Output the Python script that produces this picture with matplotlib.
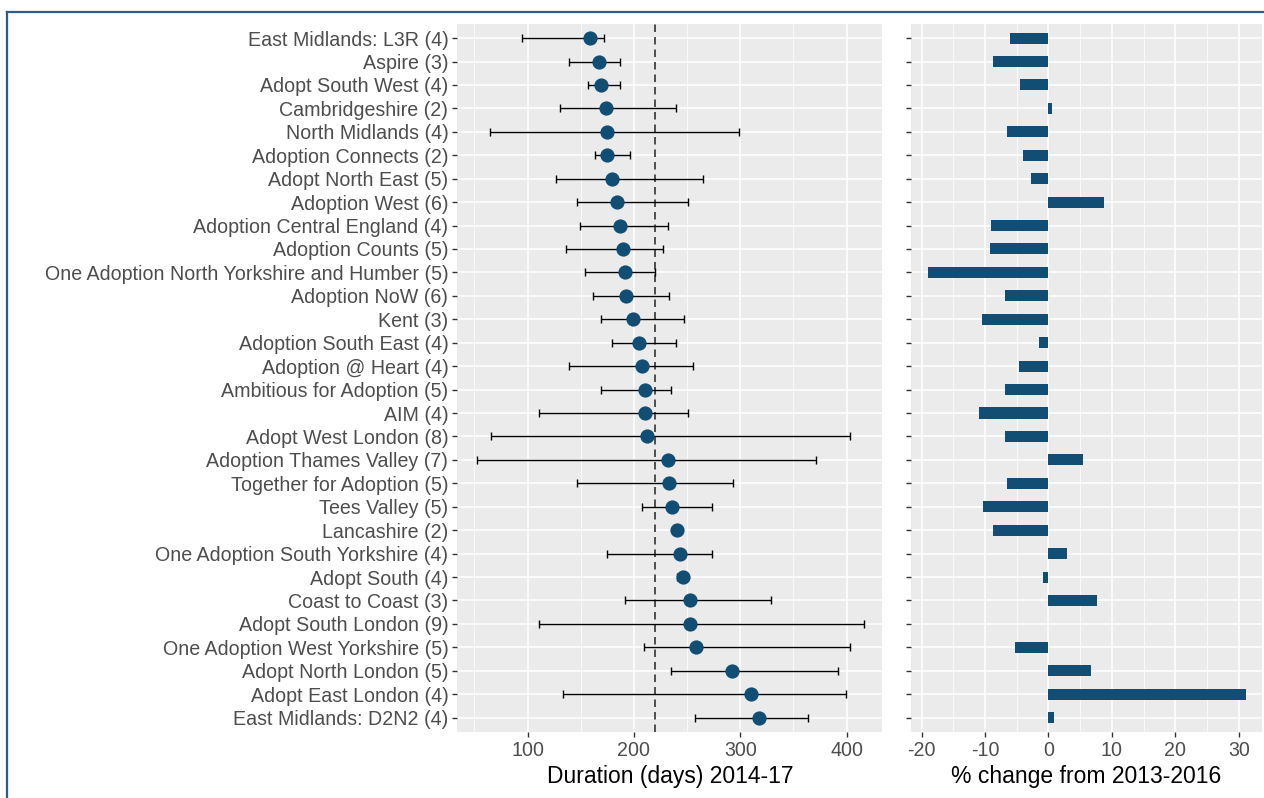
import matplotlib
matplotlib.use("Agg")
import matplotlib.pyplot as plt
import numpy as np
from matplotlib.lines import Line2D

plt.rcParams['font.family'] = ['Liberation Sans', 'DejaVu Sans']
plt.rcParams['axes.unicode_minus'] = False

# adoption agencies, top to bottom
agencies = [
    "East Midlands: L3R (4)", "Aspire (3)", "Adopt South West (4)", "Cambridgeshire (2)",
    "North Midlands (4)", "Adoption Connects (2)", "Adopt North East (5)", "Adoption West (6)",
    "Adoption Central England (4)", "Adoption Counts (5)",
    "One Adoption North Yorkshire and Humber (5)", "Adoption NoW (6)", "Kent (3)",
    "Adoption South East (4)", "Adoption @ Heart (4)", "Ambitious for Adoption (5)", "AIM (4)",
    "Adopt West London (8)", "Adoption Thames Valley (7)", "Together for Adoption (5)",
    "Tees Valley (5)", "Lancashire (2)", "One Adoption South Yorkshire (4)", "Adopt South (4)",
    "Coast to Coast (3)", "Adopt South London (9)", "One Adoption West Yorkshire (5)",
    "Adopt North London (5)", "Adopt East London (4)", "East Midlands: D2N2 (4)",
]

# duration in days 2014-17: mean, min, max
duration = [158.6, 167.4, 169.0, 173.4, 174.9, 174.9, 179.3, 183.7, 186.8, 189.7,
            191.2, 192.5, 198.7, 204.4, 207.5, 210.7, 210.7, 212.2, 231.7, 232.6,
            236.1, 240.4, 243.3, 246.4, 252.7, 252.7, 258.3, 292.5, 310.3, 317.9]
dur_low = [94.4, 138.9, 156.7, 130.1, 64.6, 163.0, 127.0, 146.4, 149.2, 136.1,
           153.9, 161.1, 169.0, 179.6, 138.9, 169.0, 110.7, 66.1, 52.7, 146.4,
           207.8, 239.5, 174.9, 240.4, 191.5, 110.7, 209.1, 234.5, 133.5, 257.1]
dur_high = [172.1, 187.1, 187.1, 239.5, 298.7, 195.9, 264.6, 251.1, 231.7, 227.0,
            219.4, 232.9, 246.7, 239.2, 255.8, 234.5, 251.1, 402.8, 371.5, 292.8,
            273.4, 242.0, 273.4, 248.3, 328.5, 416.3, 402.8, 392.2, 399.4, 363.9]
national_avg = 219.5

# % change from 2013-2016
pct_change = [-6.0, -8.8, -4.5, 0.5, -6.5, -4.0, -2.7, 8.7, -9.0, -9.25,
              -19.0, -6.8, -10.5, -1.5, -4.7, -6.8, -11.0, -6.8, 5.5, -6.5,
              -10.25, -8.7, 3.0, -0.8, 7.7, 0.0, -5.3, 6.7, 31.2, 0.95]

dur_ticks = [100, 200, 300, 400]
pct_ticks = [-20, -10, 0, 10, 20, 30]

navy = '#124E74'
panel_bg = '#EBEBEB'
label_col = '#4D4D4D'

fig = plt.figure(figsize=(12.64, 7.98), dpi=100)
ax1 = fig.add_axes([0.3618, 0.0831, 0.3362, 0.8868])
ax2 = fig.add_axes([0.7205, 0.0831, 0.2782, 0.8868])

y = np.arange(len(agencies))


def gg_style(ax, major, minor):
    ax.set_facecolor(panel_bg)
    for s in ax.spines.values():
        s.set_visible(False)
    ax.set_xticks(major)
    ax.set_xticks(minor, minor=True)
    ax.set_yticks(y)
    ax.grid(which='major', color='white', linewidth=1.1)
    ax.grid(which='minor', axis='x', color='white', linewidth=0.55)
    ax.set_axisbelow(True)
    ax.tick_params(which='major', length=3.5, width=1, color='#333333',
                   labelcolor=label_col, labelsize=14.1, pad=3)
    ax.tick_params(which='minor', length=0)
    ax.set_ylim(len(agencies) - 0.4, -0.6)


# left panel: durations with ranges
gg_style(ax1, dur_ticks, [50, 150, 250, 350])
ax1.set_xlim(34, 433.5)
ax1.axvline(national_avg, color='#333333', lw=1.2, ls=(0, (4.5, 3)), zorder=1.5)
err = [np.array(duration) - np.array(dur_low), np.array(dur_high) - np.array(duration)]
ax1.errorbar(duration, y, xerr=err, fmt='none', ecolor='black', elinewidth=1.0,
             capsize=2.6, capthick=1.0, zorder=2)
ax1.scatter(duration, y, s=105, color=navy, zorder=3, linewidths=0)
ax1.set_yticklabels(agencies)
ax1.set_xlabel("Duration (days) 2014-17", fontsize=16.5, color='black', labelpad=4)

# right panel: % change bars
gg_style(ax2, pct_ticks, [-15, -5, 5, 15, 25])
ax2.set_xlim(-21.7, 33.7)
ax2.barh(y, pct_change, height=0.47, color=navy, linewidth=0, zorder=2)
ax2.set_yticklabels([])
ax2.set_xlabel("% change from 2013-2016", fontsize=16.5, color='black', labelpad=4)

# frame around the picture
border = '#2F5B8D'
fig.add_artist(Line2D([7 / 1264, 7 / 1264], [0, 1 - 12 / 798], color=border, lw=1.6,
                      transform=fig.transFigure))
fig.add_artist(Line2D([7 / 1264, 1], [1 - 12 / 798, 1 - 12 / 798], color=border, lw=1.6,
                      transform=fig.transFigure))

fig.savefig("out.png", dpi=100)
